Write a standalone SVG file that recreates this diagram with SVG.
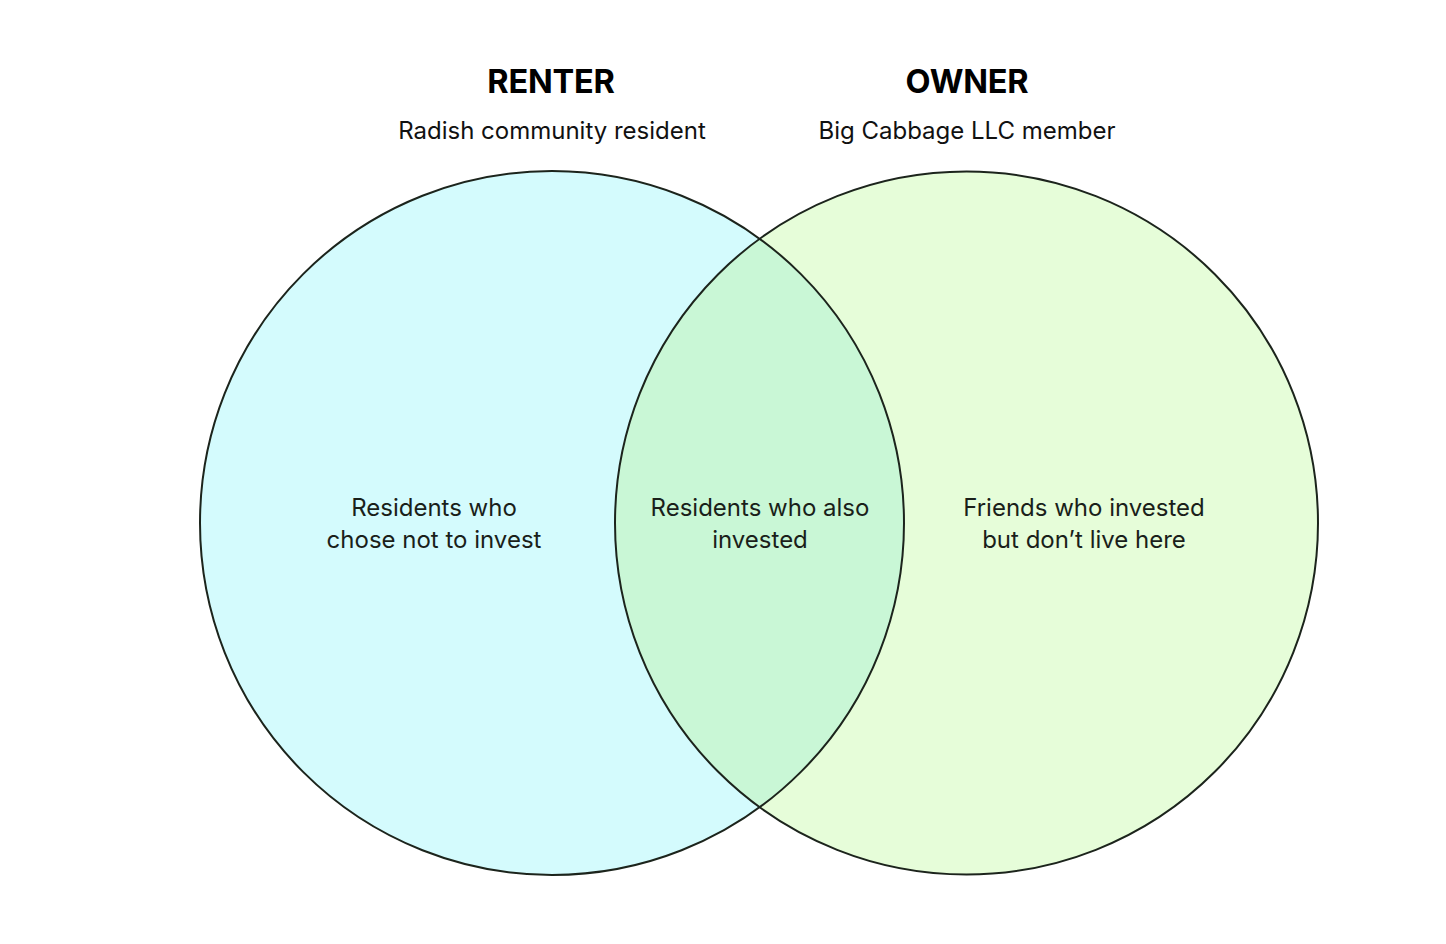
<svg xmlns="http://www.w3.org/2000/svg" width="1446" height="944" viewBox="0 0 1446 944">
<style>
.title{font-family:Inter,"Liberation Sans",sans-serif;font-weight:700;font-size:32.5px;fill:#000;text-anchor:middle;letter-spacing:-0.2px}
.sub{font-family:Inter,"Liberation Sans",sans-serif;font-size:24px;fill:#111;text-anchor:middle;letter-spacing:0}
.lbl{font-family:Inter,"Liberation Sans",sans-serif;font-size:24px;fill:#1a1f1a;text-anchor:middle;letter-spacing:0}
.ring{fill:none;stroke:#1c241c;stroke-width:2}
</style>
<defs>
<clipPath id="clipL"><circle cx="552" cy="523" r="352"/></clipPath>
</defs>
<rect width="1446" height="944" fill="#ffffff"/>
<g id="renter">
<circle cx="552" cy="523" r="352" fill="#d4fbfd"/>
</g>
<g id="owner">
<circle cx="966.5" cy="523" r="351.5" fill="#e6fdd9"/>
</g>
<g id="overlap">
<circle cx="966.5" cy="523" r="351.5" fill="#c9f7d6" clip-path="url(#clipL)"/>
</g>
<g id="connectors">
<circle class="ring" cx="552" cy="523" r="352"/>
<circle class="ring" cx="966.5" cy="523" r="351.5"/>
</g>
<g id="headers">
<text class="title" x="551" y="93">RENTER</text>
<text class="sub" x="552" y="139">Radish community resident</text>
<text class="title" x="967" y="93">OWNER</text>
<text class="sub" x="967" y="139">Big Cabbage LLC member</text>
</g>
<g id="labels">
<text class="lbl" x="434" y="516">Residents who</text>
<text class="lbl" x="434" y="548">chose not to invest</text>
<text class="lbl" x="760" y="516">Residents who also</text>
<text class="lbl" x="760" y="548">invested</text>
<text class="lbl" x="1084" y="516">Friends who invested</text>
<text class="lbl" x="1084" y="548">but don’t live here</text>
</g>
</svg>
